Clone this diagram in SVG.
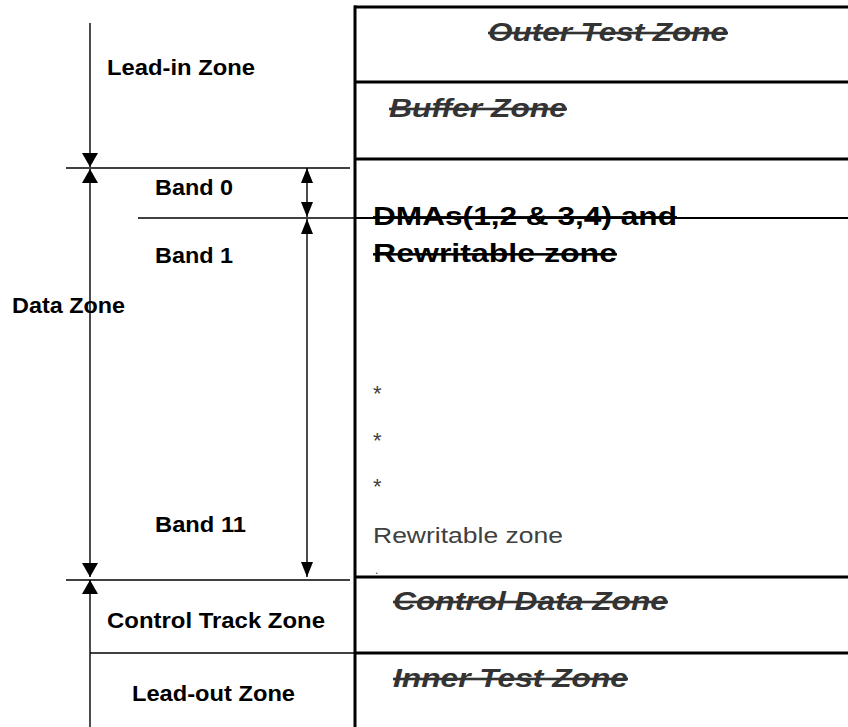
<svg xmlns="http://www.w3.org/2000/svg" width="848" height="727" viewBox="0 0 848 727">
<style>
.lbl{font-family:"Liberation Sans",Arial,sans-serif;font-weight:bold;font-size:22px;fill:#000}
.zi{font-family:"Liberation Sans",Arial,sans-serif;font-weight:bold;font-style:italic;font-size:26px;fill:#333;text-decoration:line-through}
.zb{font-family:"Liberation Sans",Arial,sans-serif;font-weight:bold;font-size:25px;fill:#000;text-decoration:line-through}
.zn{font-family:"Liberation Sans",Arial,sans-serif;font-size:22px;fill:#404040}
.thick{stroke:#000;stroke-width:3;fill:none}
.thin{stroke:#000;stroke-width:1.4;fill:none}
</style>
<defs>
<marker id="ah" markerUnits="userSpaceOnUse" markerWidth="15" markerHeight="16" refX="14" refY="8" orient="auto-start-reverse" viewBox="0 0 15 16">
<path d="M0,0 L14,8 L0,16 z" fill="#000"/>
</marker>
<marker id="ab" markerUnits="userSpaceOnUse" markerWidth="16" markerHeight="12" refX="15" refY="6" orient="auto-start-reverse" viewBox="0 0 16 12">
<path d="M0,0 L15,6 L0,12 z" fill="#000"/>
</marker>
</defs>
<rect width="848" height="727" fill="#fff"/>

<g id="outer-test-zone">
<line class="thick" x1="354" y1="7" x2="848" y2="7"/>
<text class="zi" x="488" y="41" textLength="240" lengthAdjust="spacingAndGlyphs">Outer Test Zone</text>
</g>
<g id="buffer-zone">
<line class="thick" x1="354" y1="82" x2="848" y2="82"/>
<text class="zi" x="389" y="117" textLength="178" lengthAdjust="spacingAndGlyphs">Buffer Zone</text>
</g>
<g id="dma-zone">
<line class="thick" x1="354" y1="159" x2="848" y2="159"/>
<line stroke="#000" stroke-width="2" x1="354" y1="218" x2="848" y2="218"/>
<text class="zb" x="373" y="225" textLength="304" lengthAdjust="spacingAndGlyphs">DMAs(1,2 &amp; 3,4) and</text>
<text class="zb" x="373" y="262" textLength="244" lengthAdjust="spacingAndGlyphs">Rewritable zone</text>
</g>
<g id="rewritable-zone">
<text class="zn" x="373" y="401">*</text>
<text class="zn" x="373" y="448">*</text>
<text class="zn" x="373" y="494">*</text>
<text class="zn" x="373" y="543" textLength="190" lengthAdjust="spacingAndGlyphs">Rewritable zone</text>
<text class="zn" x="375" y="574" style="font-size:12px">.</text>
</g>
<g id="control-data-zone">
<line class="thick" x1="354" y1="577" x2="848" y2="577"/>
<text class="zi" x="393" y="610" textLength="275" lengthAdjust="spacingAndGlyphs">Control Data Zone</text>
</g>
<g id="inner-test-zone">
<line class="thick" x1="354" y1="653" x2="848" y2="653"/>
<text class="zi" x="393" y="687" textLength="235" lengthAdjust="spacingAndGlyphs">Inner Test Zone</text>
</g>
<g id="disc-edge">
<line class="thick" x1="355" y1="5.5" x2="355" y2="727"/>
</g>

<g id="lead-in-zone">
<text class="lbl" x="107" y="75" textLength="148" lengthAdjust="spacingAndGlyphs">Lead-in Zone</text>
</g>
<g id="band-0">
<line class="thin" x1="66" y1="168" x2="350" y2="168"/>
<text class="lbl" x="155" y="195" textLength="78" lengthAdjust="spacingAndGlyphs">Band 0</text>
</g>
<g id="band-1">
<line class="thin" x1="138" y1="218" x2="354" y2="218"/>
<text class="lbl" x="155" y="263" textLength="78" lengthAdjust="spacingAndGlyphs">Band 1</text>
</g>
<g id="data-zone">
<text class="lbl" x="12" y="313" textLength="113" lengthAdjust="spacingAndGlyphs">Data Zone</text>
</g>
<g id="band-11">
<text class="lbl" x="155" y="532" textLength="91" lengthAdjust="spacingAndGlyphs">Band 11</text>
</g>
<g id="control-track-zone">
<line class="thin" x1="66" y1="580" x2="350" y2="580"/>
<text class="lbl" x="107" y="628" textLength="218" lengthAdjust="spacingAndGlyphs">Control Track Zone</text>
</g>
<g id="lead-out-zone">
<line class="thin" x1="90" y1="653" x2="354" y2="653"/>
<text class="lbl" x="132" y="701" textLength="163" lengthAdjust="spacingAndGlyphs">Lead-out Zone</text>
</g>

<g id="connectors">
<line class="thin" x1="90" y1="23" x2="90" y2="167" marker-end="url(#ah)"/>
<line class="thin" x1="90" y1="169" x2="90" y2="577" marker-start="url(#ah)" marker-end="url(#ah)"/>
<line class="thin" x1="90" y1="580" x2="90" y2="727" marker-start="url(#ah)"/>
<line class="thin" x1="307" y1="168" x2="307" y2="217" marker-start="url(#ab)" marker-end="url(#ab)"/>
<line class="thin" x1="307" y1="219" x2="307" y2="577" marker-start="url(#ab)" marker-end="url(#ab)"/>
</g>
</svg>
